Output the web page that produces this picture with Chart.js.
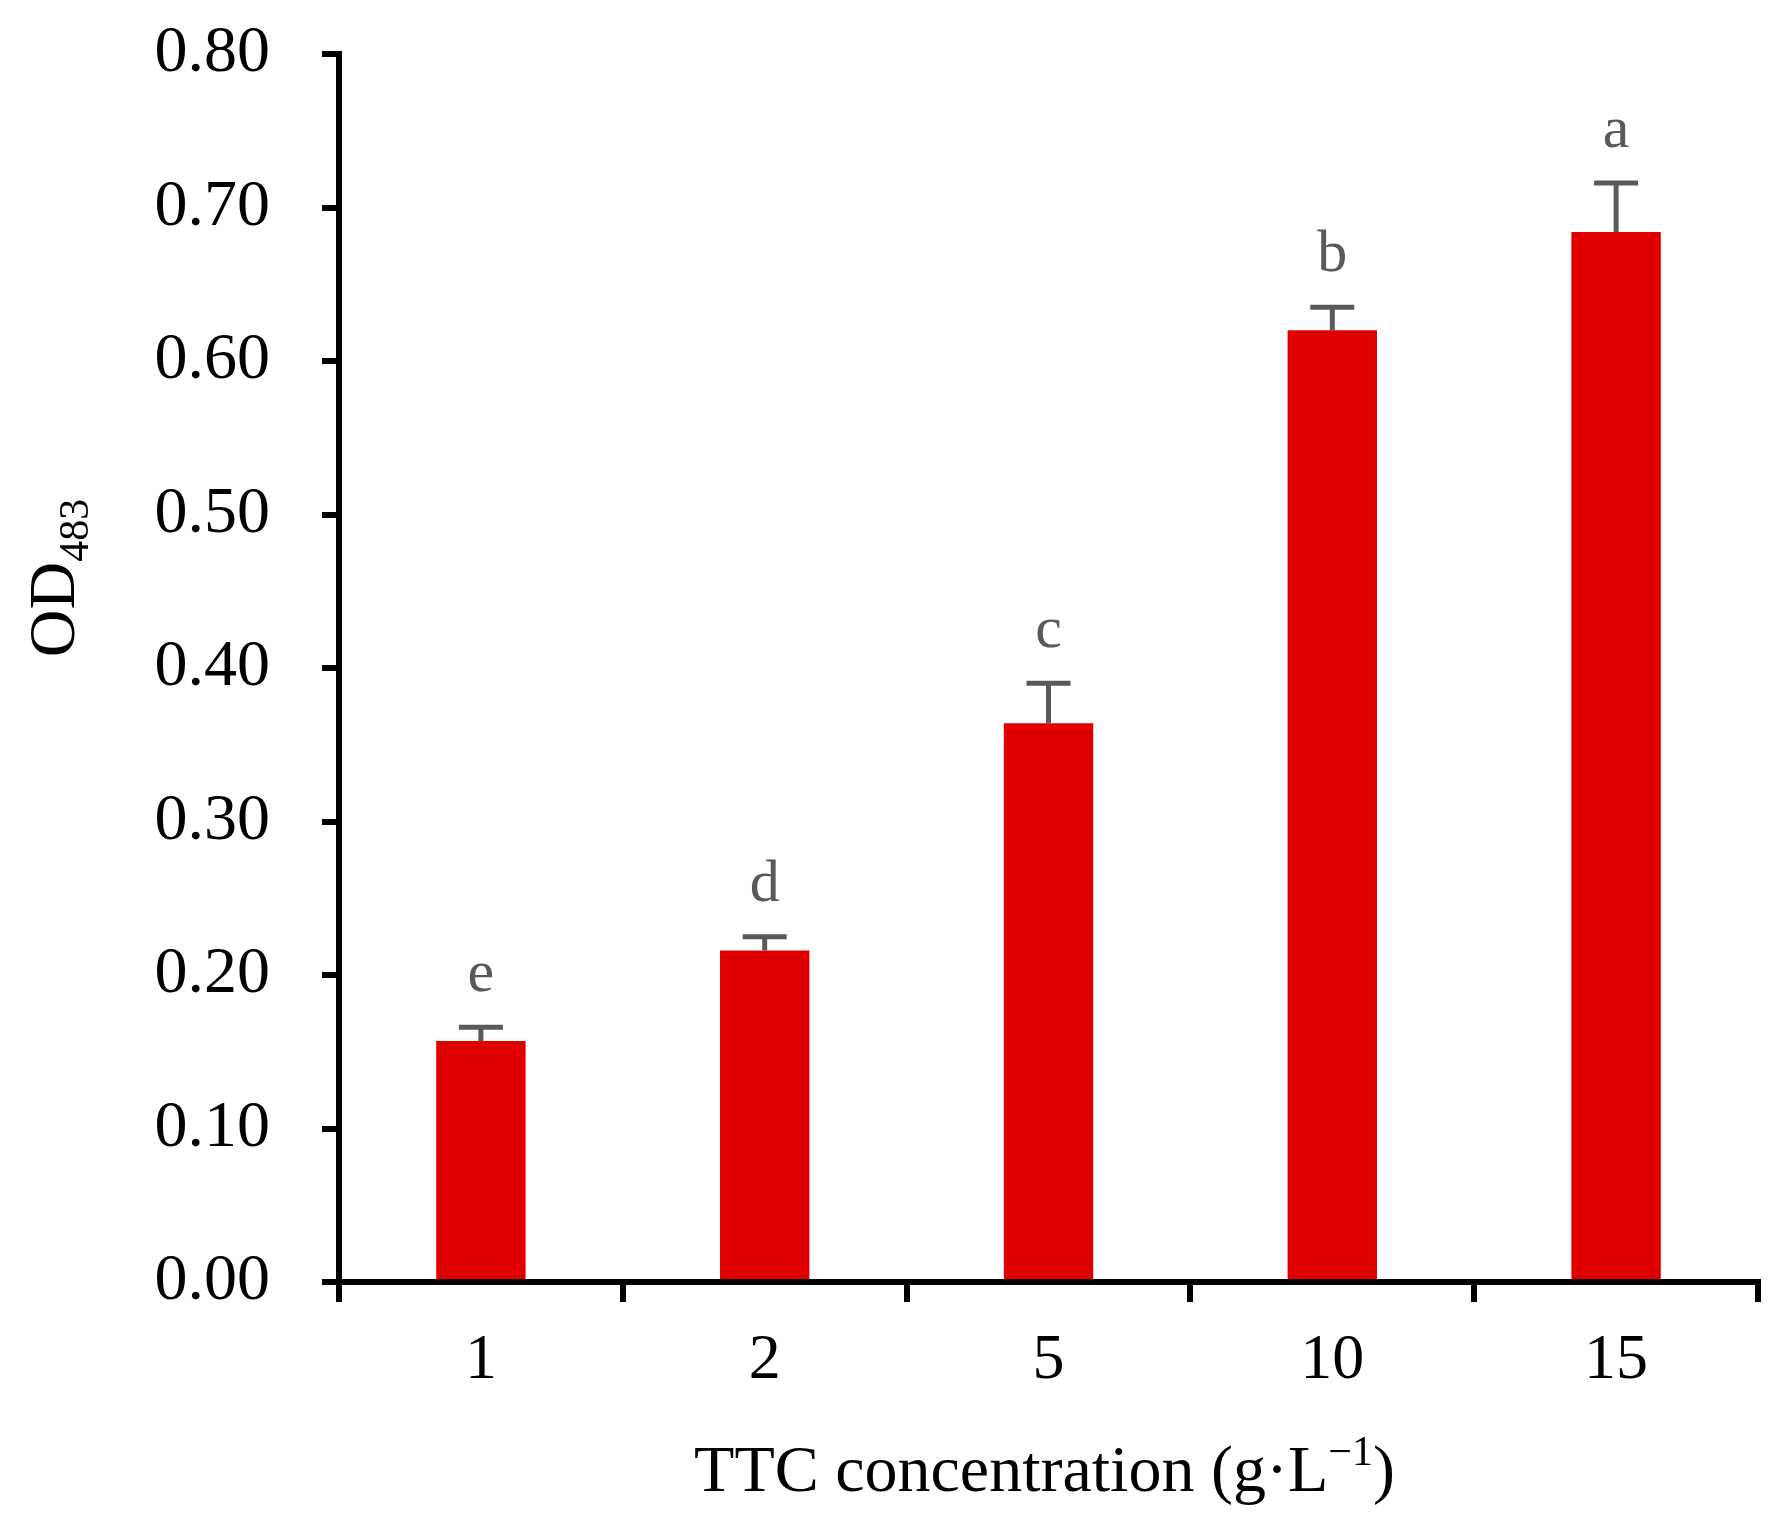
<!DOCTYPE html>
<html>
<head>
<meta charset="utf-8">
<script src="https://cdn.jsdelivr.net/npm/chart.js@4.4.1/dist/chart.umd.min.js"></script>
<style>
  html, body { margin: 0; padding: 0; background: #ffffff; }
  #wrap { width: 1778px; height: 1530px; position: relative; }
</style>
</head>
<body>
<div id="wrap"><canvas id="c" width="1778" height="1530"></canvas></div>
<script>
const categories = ['1', '2', '5', '10', '15'];
const odValues = [0.157, 0.216, 0.364, 0.620, 0.684];
const odErrors = [0.009, 0.009, 0.026, 0.015, 0.032];
const sigLetters = ['e', 'd', 'c', 'b', 'a'];
const yTicks = [0, 0.1, 0.2, 0.3, 0.4, 0.5, 0.6, 0.7, 0.8];

const FONT = "'Liberation Serif', 'Times New Roman', serif";
const GREY = '#595959';

const overlay = {
  id: 'overlay',
  afterDatasetsDraw(chart) {
    const ctx = chart.ctx;
    const ys = chart.scales.y;
    const meta = chart.getDatasetMeta(0);
    ctx.save();
    ctx.strokeStyle = GREY;
    ctx.lineWidth = 5;
    ctx.lineCap = 'butt';
    odValues.forEach((v, i) => {
      const x = meta.data[i].x;
      const yTop = ys.getPixelForValue(v + odErrors[i]);
      const yBar = ys.getPixelForValue(v);
      ctx.beginPath();
      ctx.moveTo(x, yBar);
      ctx.lineTo(x, yTop);
      ctx.stroke();
      ctx.beginPath();
      ctx.moveTo(x - 22, yTop);
      ctx.lineTo(x + 22, yTop);
      ctx.stroke();
      ctx.fillStyle = GREY;
      ctx.font = '60px ' + FONT;
      ctx.textAlign = 'center';
      ctx.textBaseline = 'alphabetic';
      ctx.fillText(sigLetters[i], x, yTop - 36);
    });
    ctx.restore();
  },
  afterDraw(chart) {
    const ctx = chart.ctx;
    const area = chart.chartArea;
    ctx.save();
    ctx.fillStyle = '#000000';
    const mainF = '66px ' + FONT, supF = '42px ' + FONT;
    const parts = [
      { t: 'TTC concentration (g\u00B7L', f: mainF, dy: 0 },
      { t: '\u22121', f: supF, dy: -26 },
      { t: ')', f: mainF, dy: 0 }
    ];
    let total = 0;
    parts.forEach(p => { ctx.font = p.f; p.w = ctx.measureText(p.t).width; total += p.w; });
    let x0 = (area.left + area.right) / 2 - total / 2 - 4;
    const baseY = 1491;
    ctx.textAlign = 'left';
    ctx.textBaseline = 'alphabetic';
    parts.forEach(p => { ctx.font = p.f; ctx.fillText(p.t, x0, baseY + p.dy); x0 += p.w; });

    ctx.translate(74, 578);
    ctx.rotate(-Math.PI / 2);
    const yparts = [
      { t: 'OD', f: '66px ' + FONT, dy: 0 },
      { t: '483', f: '42px ' + FONT, dy: 14 }
    ];
    let tot = 0;
    yparts.forEach(p => { ctx.font = p.f; p.w = ctx.measureText(p.t).width; tot += p.w; });
    let xx = -tot / 2;
    yparts.forEach(p => { ctx.font = p.f; ctx.fillText(p.t, xx, p.dy); xx += p.w; });
    ctx.restore();
  }
};

new Chart(document.getElementById('c'), {
  type: 'bar',
  data: {
    labels: categories,
    datasets: [{
      data: odValues,
      backgroundColor: '#E00000',
      borderWidth: 0,
      barPercentage: 0.63,
      categoryPercentage: 0.5
    }]
  },
  options: {
    responsive: false,
    animation: false,
    devicePixelRatio: 1,
    layout: { padding: { top: 54, right: 20, left: 0, bottom: 0 } },
    plugins: { legend: { display: false }, tooltip: { enabled: false } },
    scales: {
      x: {
        offset: true,
        grid: { display: true, offset: true, drawOnChartArea: false, color: '#000', lineWidth: 6, tickLength: 20, tickWidth: 6, tickColor: '#000' },
        border: { display: true, color: '#000', width: 6 },
        ticks: { color: '#000', font: { family: FONT, size: 64 }, padding: 21 },
        afterFit(s) { s.height = 248; }
      },
      y: {
        min: 0, max: 0.8,
        afterBuildTicks(s) { s.ticks = yTicks.map(v => ({ value: v })); },
        grid: { display: true, drawOnChartArea: false, color: '#000', lineWidth: 6, tickLength: 17, tickWidth: 6, tickColor: '#000' },
        border: { display: true, color: '#000', width: 6 },
        ticks: { color: '#000', font: { family: FONT, size: 66 }, padding: 52, callback: v => Number(v).toFixed(2) },
        afterFit(s) { s.width = 339; s.paddingTop = 30; s.paddingBottom = 30; }
      }
    }
  },
  plugins: [overlay]
});
</script>
</body>
</html>
